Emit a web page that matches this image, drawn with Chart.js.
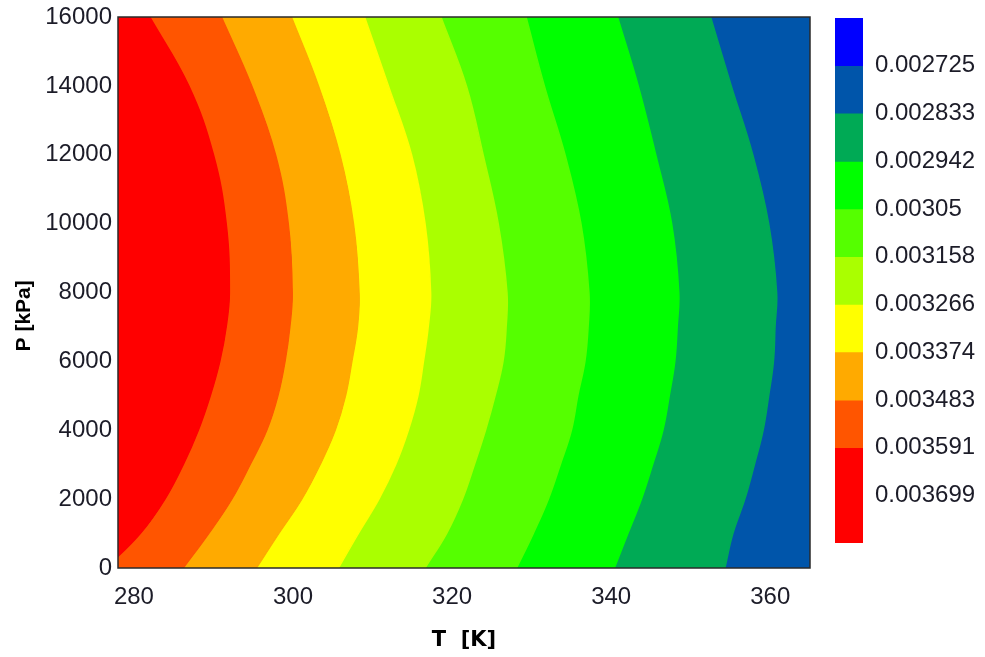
<!DOCTYPE html>
<html lang="en">
<head>
<meta charset="UTF-8">
<title>Contour T-P</title>
<script src="https://cdn.jsdelivr.net/npm/chart.js"></script>
<style>
  body { margin: 0; background: #fff; }
  .box { position: absolute; top: 0; height: 657px; }
</style>
</head>
<body>
<div class="box" style="left:0; width:830px"><canvas id="contour"></canvas></div>
<div class="box" style="left:820px; width:165px"><canvas id="colorbar"></canvas></div>

<script>
  // pressure rows (kPa), top to bottom
  var pressure = [16000, 14000, 12000, 10000, 8000, 7000, 6000, 5000, 4000, 3000, 2000, 1000, 0];

  // temperature (K) of each contour boundary at those pressures, left to right
  var tRedOrange   = [282.0, 286.9, 290.0, 291.6, 292.0, 291.6, 290.8, 289.6, 288.1, 286.2, 283.9, 280.8, 276.5];
  var tOrange      = [291.0, 294.8, 297.8, 299.4, 299.9, 299.6, 299.0, 298.1, 296.7, 294.6, 292.3, 289.4, 286.2];
  var tYellow      = [299.8, 303.2, 305.9, 307.6, 308.3, 308.1, 307.4, 306.6, 305.3, 303.4, 301.1, 298.2, 295.4];
  var tYellowGreen = [309.0, 312.0, 314.9, 316.6, 317.3, 317.0, 316.4, 315.7, 314.5, 312.9, 310.8, 308.2, 305.7];
  var tLimeGreen   = [318.6, 321.8, 323.9, 325.8, 326.9, 326.8, 326.4, 325.4, 324.2, 322.8, 321.3, 319.3, 316.6];
  var tGreen       = [329.3, 331.6, 334.2, 336.2, 337.2, 337.1, 336.7, 335.8, 335.0, 333.6, 332.1, 330.2, 328.1];
  var tDarkGreen   = [340.8, 343.4, 345.6, 347.6, 348.5, 348.3, 348.0, 347.3, 346.5, 345.2, 343.8, 342.1, 340.4];
  var tNavy        = [352.5, 355.1, 357.8, 359.8, 360.8, 360.6, 360.4, 359.8, 359.1, 358.0, 356.8, 355.3, 354.3];

  // colour of the band on the left of each boundary
  var bandColors = ['#ff0000', '#ff5500', '#ffaa00', '#ffff00', '#aaff00', '#55ff00', '#00ff00', '#00aa55'];
  var lastBand = '#0055aa';

  // colour bar
  var barEdges = [0.002617, 0.002725, 0.002833, 0.002942, 0.00305, 0.003158, 0.003266, 0.003374, 0.003483, 0.003591, 0.003807];
  var barColors = ['#0000ff', '#0055aa', '#00aa55', '#00ff00', '#55ff00', '#aaff00', '#ffff00', '#ffaa00', '#ff5500', '#ff0000'];
  var barTicks = [0.002725, 0.002833, 0.002942, 0.00305, 0.003158, 0.003266, 0.003374, 0.003483, 0.003591, 0.003699];
  var barLabels = ['0.002725', '0.002833', '0.002942', '0.00305', '0.003158', '0.003266', '0.003374', '0.003483', '0.003591', '0.003699'];

  var tickFont = { family: 'Liberation Sans, Arial, sans-serif', size: 24 };
  var textColor = '#1c1c28';

  var boundaries = [tRedOrange, tOrange, tYellow, tYellowGreen, tLimeGreen, tGreen, tDarkGreen, tNavy];

  var datasets = boundaries.map(function (b, i) {
    return {
      data: pressure.map(function (p, j) { return { x: b[j], y: p }; }),
      fill: i === 0 ? 'origin' : '-1',
      backgroundColor: bandColors[i],
      borderColor: bandColors[i],
      borderWidth: 1.5,
      pointRadius: 0,
      tension: 0.4
    };
  });

  // the band right of the last boundary is the plot background, plus the frame
  var plotFrame = {
    id: 'plotFrame',
    beforeDatasetsDraw: function (chart) {
      var a = chart.chartArea, ctx = chart.ctx;
      ctx.save();
      ctx.fillStyle = lastBand;
      ctx.fillRect(a.left, a.top, a.right - a.left, a.bottom - a.top);
      ctx.restore();
    },
    afterDraw: function (chart) {
      var a = chart.chartArea, ctx = chart.ctx;
      ctx.save();
      ctx.strokeStyle = '#2a2a2a';
      ctx.lineWidth = 1.5;
      ctx.strokeRect(a.left, a.top, a.right - a.left, a.bottom - a.top);
      ctx.restore();
    }
  };

  new Chart(document.getElementById('contour'), {
    type: 'line',
    data: { datasets: datasets },
    plugins: [plotFrame],
    options: {
      indexAxis: 'y',
      responsive: true,
      maintainAspectRatio: false,
      animation: false,
      layout: { padding: { top: 17, right: 20, left: 0, bottom: 0 } },
      plugins: { legend: { display: false }, tooltip: { enabled: false } },
      scales: {
        x: {
          type: 'linear',
          position: 'bottom',
          min: 278,
          max: 365,
          grid: { display: false, drawTicks: false },
          border: { display: false },
          ticks: {
            stepSize: 20, includeBounds: false, padding: 15,
            color: textColor, font: tickFont,
            callback: function (v) { return String(v); }
          },
          title: {
            display: true, text: 'T  [K]', color: '#000',
            font: { family: 'DejaVu Sans, sans-serif', size: 21, weight: 'bold' },
            padding: { top: 0, bottom: 4 }
          },
          afterFit: function (s) { s.height = 89; }
        },
        y: {
          type: 'linear',
          position: 'left',
          min: 0,
          max: 16000,
          grid: { display: false, drawTicks: false },
          border: { display: false },
          ticks: {
            stepSize: 2000, padding: 6,
            color: textColor, font: tickFont,
            callback: function (v) { return String(v); }
          },
          title: {
            display: true, text: 'P [kPa]        ', color: '#000',
            font: { family: 'Liberation Sans, Arial, sans-serif', size: 21, weight: 'bold' },
            padding: { top: 12, bottom: 0 }
          },
          afterFit: function (s) { s.width = 118; s.paddingTop = 0; s.paddingBottom = 0; }
        }
      }
    }
  });

  new Chart(document.getElementById('colorbar'), {
    type: 'bar',
    data: {
      labels: [''],
      datasets: barColors.map(function (c, i) {
        return {
          data: [[barEdges[i], barEdges[i + 1]]],
          backgroundColor: c,
          borderWidth: 0,
          grouped: false,
          barPercentage: 1,
          categoryPercentage: 1
        };
      })
    },
    options: {
      responsive: true,
      maintainAspectRatio: false,
      animation: false,
      layout: { padding: { top: 18, left: 15, right: 0, bottom: 114 } },
      plugins: { legend: { display: false }, tooltip: { enabled: false } },
      scales: {
        x: { display: false },
        y: {
          type: 'linear',
          position: 'right',
          reverse: true,
          min: barEdges[0],
          max: barEdges[barEdges.length - 1],
          grid: { display: false, drawTicks: false },
          border: { display: false },
          afterBuildTicks: function (s) {
            s.ticks = barTicks.map(function (v) { return { value: v }; });
          },
          ticks: {
            padding: 12, autoSkip: false,
            color: textColor, font: tickFont,
            callback: function (v, i) { return barLabels[i]; }
          },
          afterFit: function (s) { s.width = 122; s.paddingTop = 0; s.paddingBottom = 0; }
        }
      }
    }
  });
</script>
</body>
</html>
